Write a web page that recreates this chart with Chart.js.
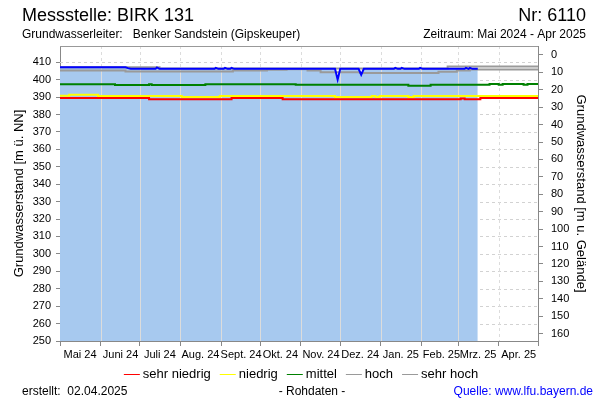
<!DOCTYPE html>
<html>
<head>
<meta charset="utf-8">
<script src="https://cdn.jsdelivr.net/npm/chart.js@4"></script>
<style>
  html, body { margin: 0; padding: 0; background: #fff; }
  #wrap { width: 600px; height: 400px; }
</style>
</head>
<body>
<div id="wrap"><canvas id="birk131"></canvas></div>
<script>
// Messstelle BIRK 131, Zeitraum Mai 2024 - Apr 2025
// x values are days counted from 1 May 2024
const monthStarts = [0, 31, 61, 92, 123, 153, 184, 214, 245, 276, 304, 335, 365];
const monthLabels = [
    'Mai 24', 'Juni 24', 'Juli 24', 'Aug. 24', 'Sept. 24', 'Okt. 24',
    'Nov. 24', 'Dez. 24', 'Jan. 25', 'Feb. 25', 'Mrz. 25', 'Apr. 25'
];
const levelTicks = [250, 260, 270, 280, 290, 300, 310, 320, 330, 340, 350, 360, 370, 380, 390, 400, 410];
const depthTicks = [0, 10, 20, 30, 40, 50, 60, 70, 80, 90, 100, 110, 120, 130, 140, 150, 160];
const groundLevel = 414.2;   // m ü. NN, zero of the right axis
const levelMin = 250;
const levelMax = 419.3;

// Messwerte (m ü. NN)
const measuredDays = [0, 50, 52, 54, 73, 74, 76, 118, 119, 121, 125, 126, 128, 130, 131, 133,
    210, 212, 214, 228, 230, 232, 255, 256, 258, 260, 261, 263, 274, 275, 277, 309, 310, 312, 313, 315, 319];
const measuredLevels = [407.1, 407.1, 406.6, 406.2, 406.2, 407.0, 406.2, 406.2, 406.8, 406.2, 406.2, 406.8, 406.2, 406.2, 406.8, 406.2,
    406.2, 400.0, 406.2, 406.2, 402.8, 406.2, 406.2, 406.8, 406.2, 406.2, 406.8, 406.2, 406.2, 406.8, 406.2, 406.2, 406.8, 406.2, 406.8, 406.2, 406.2];

// Kennwerte (step lines)
const sehrNiedrigDays = [0, 68, 131, 170, 306, 309, 321, 365];
const sehrNiedrigLevels = [389.4, 388.8, 389.4, 388.7, 389.2, 388.7, 389.4, 389.4];

const niedrigDays = [0, 7, 29, 93, 122, 210, 238, 241, 244, 266, 270, 365];
const niedrigLevels = [390.8, 391.3, 390.6, 390.1, 390.6, 390.1, 390.6, 390.1, 390.6, 390.1, 390.6, 390.6];

const mittelDays = [0, 42, 68, 70, 111, 180, 266, 283, 328, 335, 338, 354, 357, 365];
const mittelLevels = [397.4, 396.9, 397.4, 396.9, 397.3, 397.0, 396.5, 397.0, 397.5, 397.1, 397.5, 397.1, 397.5, 397.5];

const hochDays = [0, 50, 132, 158, 173, 189, 199, 229, 289, 303, 313, 365];
const hochLevels = [405.2, 404.6, 405.2, 405.6, 406.0, 405.2, 404.3, 403.8, 404.5, 405.2, 405.8, 405.8];

const sehrHochDays = [0, 54, 76, 296, 365];
const sehrHochLevels = [407.1, 407.1, 406.4, 407.5, 407.5];

const toPoints = (days, levels) => days.map((d, i) => ({ x: d, y: levels[i] }));

const FONT = "'Liberation Sans', Arial, sans-serif";
Chart.defaults.font.family = FONT;
Chart.defaults.color = '#000';

const stepLine = (label, color, days, levels, order) => ({
    label: label,
    data: toPoints(days, levels),
    borderColor: color,
    backgroundColor: color,
    borderWidth: 2,
    stepped: true,
    fill: false,
    inLegend: true,
    order: order
});

// dashed grid below the data
const gridLines = {
    id: 'gridLines',
    beforeDatasetsDraw(chart) {
        const { ctx, chartArea: a, scales: { x, y } } = chart;
        ctx.save();
        ctx.strokeStyle = '#d2d2d2';
        ctx.lineWidth = 1;
        ctx.setLineDash([3, 3]);
        levelTicks.slice(1).forEach(v => {
            const py = Math.round(y.getPixelForValue(v)) + 0.5;
            ctx.beginPath(); ctx.moveTo(a.left, py); ctx.lineTo(a.right, py); ctx.stroke();
        });
        monthStarts.slice(1, -1).forEach(d => {
            const px = Math.round(x.getPixelForValue(d)) + 0.5;
            ctx.beginPath(); ctx.moveTo(px, a.top); ctx.lineTo(px, a.bottom); ctx.stroke();
        });
        ctx.restore();
    }
};

// month separators are solid where they cross the blue area
const fillSeparators = {
    id: 'fillSeparators',
    afterDatasetDraw(chart, args) {
        if (args.index !== 0) return;
        const { ctx, chartArea: a, scales: { x } } = chart;
        ctx.save();
        ctx.globalCompositeOperation = 'source-atop';
        ctx.strokeStyle = '#dcdcdc';
        ctx.lineWidth = 1;
        monthStarts.slice(1, -1).forEach(d => {
            const px = Math.round(x.getPixelForValue(d)) + 0.5;
            ctx.beginPath(); ctx.moveTo(px, a.top); ctx.lineTo(px, a.bottom); ctx.stroke();
        });
        ctx.restore();
    }
};

// header, frame, legend and footer
const pageText = {
    id: 'pageText',
    afterDraw(chart) {
        const { ctx, chartArea: a } = chart;
        ctx.save();
        ctx.strokeStyle = '#999';
        ctx.lineWidth = 1;
        ctx.beginPath();
        ctx.moveTo(a.left, a.top + 0.5);
        ctx.lineTo(a.right, a.top + 0.5);
        ctx.stroke();

        ctx.fillStyle = '#000';
        ctx.textBaseline = 'alphabetic';
        ctx.font = '18px ' + FONT;
        ctx.textAlign = 'left';
        ctx.fillText('Messstelle: BIRK 131', 22, 21);
        ctx.textAlign = 'right';
        ctx.fillText('Nr: 6110', 586, 21);

        ctx.font = '12px ' + FONT;
        ctx.textAlign = 'left';
        ctx.fillText('Grundwasserleiter:   Benker Sandstein (Gipskeuper)', 22, 38);
        ctx.textAlign = 'right';
        ctx.fillText('Zeitraum: Mai 2024 - Apr 2025', 586, 38);

        // legend
        const items = chart.data.datasets.filter(ds => ds.inLegend);
        ctx.font = '13px ' + FONT;
        const lineLen = 16, gap = 3, spacing = 9;
        const widths = items.map(it => lineLen + gap + ctx.measureText(it.label).width);
        const total = widths.reduce((s, w) => s + w, 0) + spacing * (items.length - 1);
        let lx = 301 - total / 2;
        const ly = 374;
        ctx.textAlign = 'left';
        ctx.textBaseline = 'middle';
        items.forEach((it, i) => {
            ctx.strokeStyle = it.borderColor;
            ctx.lineWidth = 1;
            ctx.beginPath();
            ctx.moveTo(lx, ly + 0.5);
            ctx.lineTo(lx + lineLen, ly + 0.5);
            ctx.stroke();
            ctx.fillStyle = '#000';
            ctx.fillText(it.label, lx + lineLen + gap, ly);
            lx += widths[i] + spacing;
        });

        // footer
        ctx.font = '12px ' + FONT;
        ctx.textBaseline = 'alphabetic';
        ctx.textAlign = 'left';
        ctx.fillText('erstellt:  02.04.2025', 22, 395);
        ctx.textAlign = 'center';
        ctx.fillText('- Rohdaten -', 312, 395);
        ctx.textAlign = 'right';
        ctx.fillStyle = '#0000ff';
        ctx.fillText('Quelle: www.lfu.bayern.de', 593, 395);
        ctx.restore();
    }
};

const birkData = {
    datasets: [
        {
            label: 'Messwerte',
            data: toPoints(measuredDays, measuredLevels),
            borderWidth: 0,
            borderColor: 'rgba(0,0,0,0)',
            backgroundColor: '#a7c9ef',
            fill: 'start',
            order: 10
        },
        stepLine('sehr niedrig', '#ff0000', sehrNiedrigDays, sehrNiedrigLevels, 6),
        stepLine('niedrig', '#ffff00', niedrigDays, niedrigLevels, 5),
        stepLine('mittel', '#008000', mittelDays, mittelLevels, 5),
        stepLine('hoch', '#9a9a9a', hochDays, hochLevels, 5),
        stepLine('sehr hoch', '#9a9a9a', sehrHochDays, sehrHochLevels, 5),
        {
            label: 'Grundwasserstand',
            data: toPoints(measuredDays, measuredLevels),
            borderColor: '#0000ff',
            borderWidth: 2,
            fill: false,
            order: 0
        }
    ]
};

const birkConfig = {
    type: 'line',
    data: birkData,
    options: {
        responsive: true,
        maintainAspectRatio: false,
        animation: false,
        layout: { padding: { top: 46, bottom: 39, left: 0, right: 0 } },
        elements: { point: { radius: 0 }, line: { tension: 0 } },
        plugins: { legend: { display: false }, tooltip: { enabled: false } },
        scales: {
            x: {
                type: 'linear',
                position: 'bottom',
                min: 0,
                max: 365,
                afterBuildTicks: s => { s.ticks = monthStarts.map(v => ({ value: v })); },
                afterFit: s => { s.height = 20; },
                ticks: {
                    callback: (v, i) => monthLabels[i] || '',
                    labelOffset: 20,
                    autoSkip: false,
                    maxRotation: 0,
                    minRotation: 0,
                    padding: 2,
                    font: { size: 11 }
                },
                grid: { drawOnChartArea: false, tickLength: 5, color: '#888' },
                border: { color: '#888' }
            },
            y: {
                type: 'linear',
                position: 'left',
                min: levelMin,
                max: levelMax,
                afterBuildTicks: s => { s.ticks = levelTicks.map(v => ({ value: v })); },
                afterFit: s => { s.width = 60; },
                ticks: { padding: 5, font: { size: 11 } },
                grid: { drawOnChartArea: false, tickLength: 4, color: '#888' },
                border: { color: '#888' },
                title: {
                    display: true,
                    text: 'Grundwasserstand [m ü. NN]',
                    font: { size: 13 },
                    padding: { top: 12, bottom: 0 }
                }
            },
            y2: {
                type: 'linear',
                position: 'right',
                reverse: true,
                min: groundLevel - levelMax,
                max: groundLevel - levelMin,
                afterBuildTicks: s => { s.ticks = depthTicks.map(v => ({ value: v })); },
                afterFit: s => { s.width = 62; },
                ticks: { padding: 8, font: { size: 11 } },
                grid: { drawOnChartArea: false, tickLength: 5, color: '#888' },
                border: { color: '#888' },
                title: {
                    display: true,
                    text: 'Grundwasserstand [m u. Gelände]',
                    font: { size: 13 },
                    padding: { top: 12, bottom: 0 }
                }
            }
        }
    },
    plugins: [gridLines, fillSeparators, pageText]
};

const birkChart = new Chart(
    document.getElementById('birk131'),
    birkConfig
);
</script>
</body>
</html>
